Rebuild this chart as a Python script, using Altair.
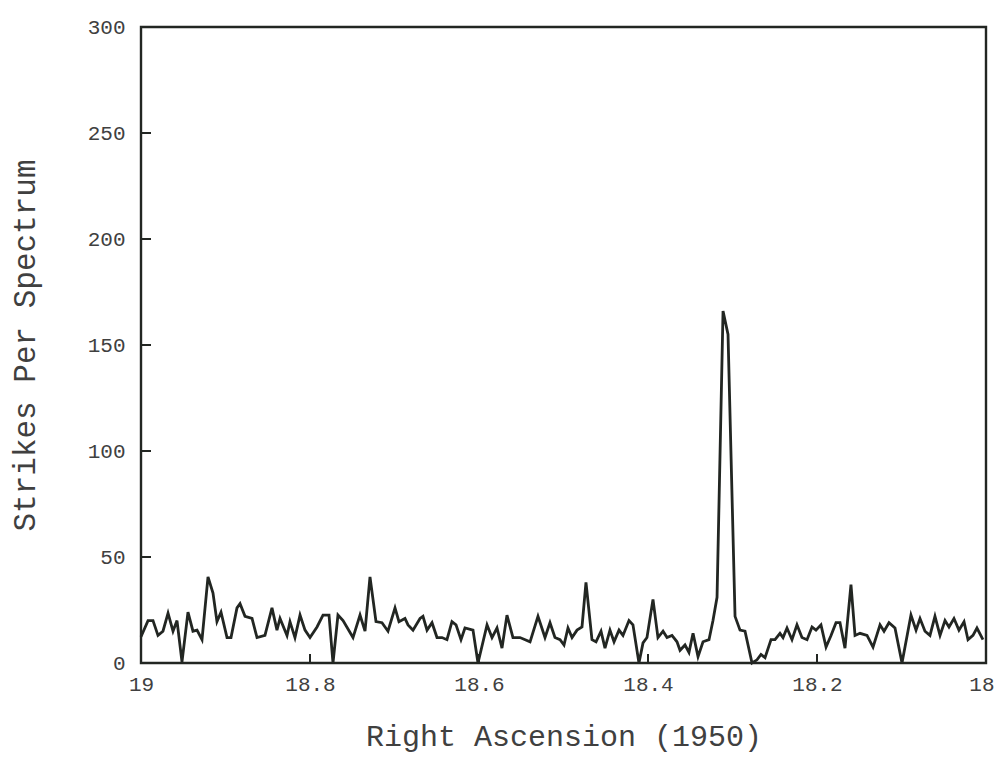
import altair as alt
import pandas as pd

ra = [19.0000, 18.9917, 18.9858, 18.9799, 18.9740, 18.9680, 18.9621, 18.9574, 18.9515, 18.9444,
      18.9385, 18.9337, 18.9278, 18.9207, 18.9148, 18.9101, 18.9053, 18.8982, 18.8935, 18.8864,
      18.8828, 18.8769, 18.8686, 18.8627, 18.8533, 18.8450, 18.8391, 18.8355, 18.8272, 18.8237,
      18.8178, 18.8118, 18.8059, 18.8000, 18.7917, 18.7846, 18.7775, 18.7728, 18.7669, 18.7609,
      18.7491, 18.7408, 18.7349, 18.7290, 18.7219, 18.7148, 18.7077, 18.6994, 18.6947, 18.6876,
      18.6840, 18.6781, 18.6698, 18.6663, 18.6615, 18.6556, 18.6497, 18.6438, 18.6379, 18.6320,
      18.6272, 18.6213, 18.6166, 18.6071, 18.6012, 18.5905, 18.5846, 18.5787, 18.5728, 18.5669,
      18.5598, 18.5515, 18.5396, 18.5302, 18.5219, 18.5160, 18.5101, 18.5041, 18.4994, 18.4947,
      18.4899, 18.4840, 18.4781, 18.4734, 18.4663, 18.4615, 18.4556, 18.4509, 18.4450, 18.4402,
      18.4343, 18.4296, 18.4225, 18.4178, 18.4107, 18.4059, 18.4012, 18.3941, 18.3882, 18.3822,
      18.3775, 18.3716, 18.3657, 18.3621, 18.3562, 18.3515, 18.3467, 18.3408, 18.3349, 18.3278,
      18.3231, 18.3183, 18.3112, 18.3053, 18.2970, 18.2911, 18.2852, 18.2769, 18.2710, 18.2663,
      18.2615, 18.2544, 18.2497, 18.2438, 18.2402, 18.2355, 18.2296, 18.2237, 18.2178, 18.2118,
      18.2059, 18.2012, 18.1953, 18.1893, 18.1834, 18.1775, 18.1728, 18.1669, 18.1598, 18.1550,
      18.1491, 18.1408, 18.1337, 18.1254, 18.1207, 18.1148, 18.1077, 18.0994, 18.0888, 18.0828,
      18.0781, 18.0722, 18.0663, 18.0604, 18.0544, 18.0485, 18.0438, 18.0379, 18.0320, 18.0260,
      18.0213, 18.0154, 18.0107, 18.0036]

strikes = [12.4, 20, 20, 13, 15, 23.5, 15, 20, 0.5, 24,
           15, 15.5, 11, 40.6, 33, 19.5, 24, 12, 12, 26,
           28, 22, 21, 12, 13, 26, 15.5, 21, 13, 19.5,
           12, 22.6, 15.5, 12, 17, 22.6, 22.6, 0, 22.6, 20,
           12, 22.6, 15, 40.6, 19.5, 19, 15, 26, 19.5, 21,
           18, 15.5, 21, 22, 15.5, 19, 12, 12, 11, 19.5,
           18, 11, 16.5, 15.5, 0, 18, 12, 16.5, 7, 22.6,
           12, 12, 10, 22, 12, 19, 12, 11, 8.5, 16.5,
           12, 15.5, 17, 38, 11, 10, 15, 7, 15.5, 10,
           15.5, 13, 20, 18, 0, 9.5, 12, 30, 12, 15,
           12, 13, 10, 6, 8.5, 5, 14, 3, 10, 11,
           20, 31, 166, 155, 22, 15.5, 15, 0, 1.5, 4,
           2.5, 11, 11, 14, 12, 16.5, 11, 18, 12, 11,
           17, 15.5, 18, 7.5, 13, 19, 19, 7, 37, 13,
           14, 13, 7.5, 18, 15, 19, 16.5, 0, 22.6, 15.5,
           21, 15, 13, 22, 13, 20, 17, 21, 15.5, 19.5,
           11, 13, 16.5, 11]

x_ticks = [19.0, 18.8, 18.6, 18.4, 18.2, 18.0]
y_ticks = [0, 50, 100, 150, 200, 250, 300]

W, H = 845, 636
FONT = "Liberation Mono"
INK = "#222622"
TXT = "#404040"

df = pd.DataFrame({"ra": ra, "strikes": strikes})
xt = pd.DataFrame({"ra": x_ticks})
yt = pd.DataFrame({"strikes": y_ticks})

xs = alt.Scale(domain=[18, 19], reverse=True, nice=False, zero=False)
ys = alt.Scale(domain=[0, 300], nice=False)

x_axis = alt.Axis(values=x_ticks, format=".1~f", title="Right Ascension (1950)",
                  ticks=False, domain=False, grid=False, labelPadding=10,
                  labelFont=FONT, labelFontSize=21, labelColor=TXT, labelFontWeight="normal",
                  labelAlign={"condition": {"test": "datum.value == 18", "value": "right"}, "value": "center"},
                  labelOffset={"condition": {"test": "datum.value == 18", "value": 8}, "value": 0},
                  titleFont=FONT, titleFontSize=30, titleColor=TXT, titleFontWeight="normal",
                  titlePadding=27, labelFlush=False)
y_axis = alt.Axis(values=y_ticks, format="d", title="Strikes Per Spectrum",
                  ticks=False, domain=False, grid=False, labelPadding=16,
                  labelFont=FONT, labelFontSize=21, labelColor=TXT, labelFontWeight="normal",
                  titleFont=FONT, titleFontSize=31, titleColor=TXT, titleFontWeight="normal",
                  titlePadding=46, labelFlush=False)

line = alt.Chart(df).mark_line(color=INK, strokeWidth=2.8, strokeJoin="miter").encode(
    x=alt.X("ra:Q", scale=xs, axis=x_axis),
    y=alt.Y("strikes:Q", scale=ys, axis=y_axis),
)

xtick = alt.Chart(xt).mark_rule(color=INK, strokeWidth=2).encode(
    x=alt.X("ra:Q", scale=xs, axis=x_axis),
    y=alt.value(H),
    y2=alt.value(H - 9),
)

ytick = alt.Chart(yt).mark_rule(color=INK, strokeWidth=2).encode(
    y=alt.Y("strikes:Q", scale=ys, axis=y_axis),
    x=alt.value(0),
    x2=alt.value(10),
)

chart = alt.layer(line, xtick, ytick).properties(
    width=W, height=H,
    autosize="none",
    padding={"left": 133, "top": 19, "right": 8, "bottom": 90},
    background="white",
).configure_view(stroke=INK, strokeWidth=2.4)

chart.save("out.html", embed_options={"renderer": "svg", "actions": False})
